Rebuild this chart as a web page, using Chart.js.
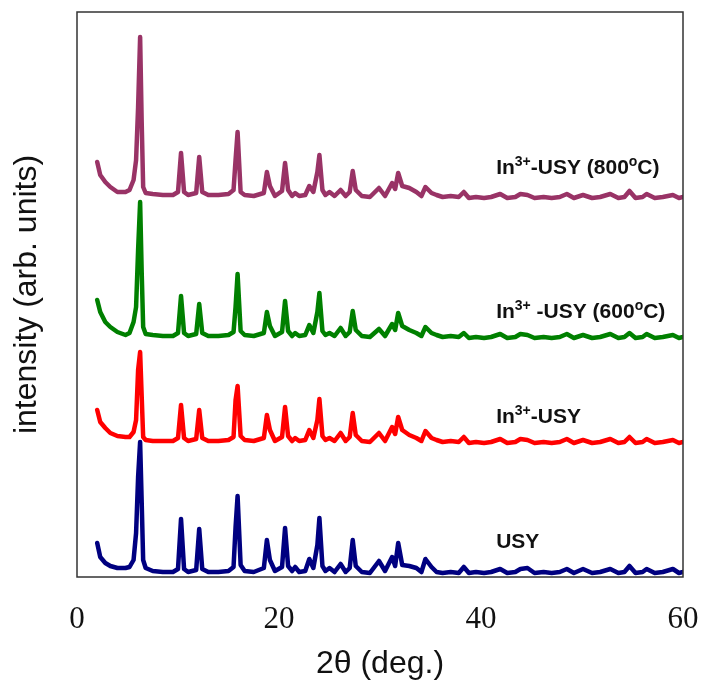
<!DOCTYPE html>
<html>
<head>
<meta charset="utf-8">
<script src="https://cdn.jsdelivr.net/npm/chart.js@4"></script>
<style>
  html, body { margin: 0; padding: 0; background: #fff; }
  #wrap { position: relative; width: 703px; height: 689px; }
</style>
</head>
<body>
<div id="wrap"><canvas id="xrd"></canvas></div>
<script>
// XRD patterns, stacked (values are arbitrary intensity units incl. the vertical offset)

const twoTheta = [
    2.0, 2.3, 2.8, 3.3, 4.0, 4.8, 5.2, 5.6, 5.85, 6.05,
    6.25, 6.4, 6.55, 6.8, 7.5, 8.5, 9.5, 10.0, 10.3, 10.6,
    11.0, 11.8, 12.1, 12.4, 13.0, 14.0, 15.0, 15.5, 15.7, 15.9,
    16.2, 16.6, 17.5, 18.5, 18.8, 19.1, 19.6, 20.3, 20.6, 20.9,
    21.3, 21.6, 22.0, 22.6, 23.0, 23.4, 23.8, 24.0, 24.3, 24.6,
    25.0, 25.5, 26.1, 26.6, 27.0, 27.3, 27.6, 28.2, 29.0, 29.9,
    30.5, 31.2, 31.5, 31.8, 32.2, 32.9, 33.6, 34.1, 34.5, 35.1,
    35.6, 36.2, 37.0, 37.8, 38.3, 38.8, 39.5, 40.3, 41.0, 41.9,
    42.6, 43.4, 43.9, 44.6, 45.3, 46.2, 47.0, 47.8, 48.5, 49.2,
    50.1, 51.0, 51.8, 52.8, 53.6, 54.2, 54.7, 55.3, 56.0, 56.4,
    57.2, 58.0, 59.0, 59.6, 60.0
];

const usy = [
    34, 20, 14, 11, 9, 9, 10, 17, 44, 100,
    135, 77, 17, 9, 6, 5, 5, 8, 58, 8,
    5, 7, 48, 8, 5, 5, 6, 10, 50, 81,
    12, 6, 5, 9, 37, 17, 6, 10, 49, 11,
    6, 10, 5, 6, 18, 9, 32, 59, 11, 6,
    9, 5, 13, 5, 9, 37, 11, 5, 4, 16,
    6, 20, 11, 34, 12, 11, 9, 5, 18, 10,
    5, 4, 5, 4, 10, 4, 5, 4, 5, 8,
    4, 5, 8, 9, 4, 5, 4, 5, 8, 4,
    8, 4, 5, 8, 4, 5, 11, 4, 5, 8,
    4, 5, 8, 4, 5
];

const inUsy = [
    167, 155, 149, 144, 141, 140, 140, 145, 157, 207,
    225, 182, 140, 137, 136, 136, 136, 139, 172, 139,
    136, 138, 167, 139, 136, 136, 137, 140, 177, 191,
    141, 137, 136, 139, 162, 147, 136, 140, 170, 141,
    136, 139, 136, 137, 147, 139, 157, 178, 141, 137,
    139, 136, 144, 136, 140, 164, 142, 136, 135, 144,
    136, 150, 143, 160, 147, 142, 139, 136, 146, 139,
    137, 135, 136, 135, 140, 134, 135, 134, 135, 138,
    134, 135, 138, 137, 134, 135, 134, 135, 138, 134,
    137, 134, 135, 138, 134, 135, 140, 134, 135, 138,
    134, 135, 137, 134, 135
];

const inUsy600 = [
    277, 265, 255, 250, 245, 242, 244, 255, 270, 327,
    375, 307, 250, 243, 242, 241, 241, 244, 281, 244,
    241, 243, 273, 244, 241, 241, 242, 245, 270, 303,
    246, 242, 241, 244, 265, 251, 241, 245, 276, 246,
    241, 244, 241, 242, 252, 244, 265, 284, 246, 242,
    244, 241, 249, 241, 245, 266, 247, 241, 240, 248,
    241, 253, 247, 264, 251, 247, 244, 241, 250, 244,
    242, 240, 241, 240, 244, 239, 240, 239, 240, 243,
    239, 240, 243, 242, 239, 240, 239, 240, 243, 239,
    242, 239, 240, 243, 239, 240, 244, 239, 240, 243,
    239, 240, 242, 239, 240
];

const inUsy800 = [
    415, 402, 395, 390, 385, 385, 387, 397, 417, 470,
    540, 457, 390, 384, 383, 382, 382, 385, 424, 385,
    382, 384, 420, 385, 382, 382, 383, 387, 417, 445,
    385, 382, 381, 384, 405, 391, 381, 386, 414, 387,
    381, 384, 381, 382, 391, 385, 405, 422, 387, 382,
    385, 381, 387, 381, 385, 406, 387, 381, 380, 389,
    381, 394, 388, 404, 391, 389, 385, 381, 390, 384,
    382, 380, 381, 380, 385, 379, 380, 379, 380, 383,
    379, 380, 383, 382, 379, 380, 379, 380, 383, 379,
    382, 379, 380, 383, 379, 380, 386, 379, 380, 383,
    379, 380, 382, 379, 380
];

const seriesNames = ['USY', 'In^{3+}-USY', 'In^{3+} -USY (600^{o}C)', 'In^{3+}-USY (800^{o}C)'];
const seriesColors = ['#000080', '#ff0000', '#008000', '#993366'];
const labelTheta = 41.5;
const labelLevels = [29, 154, 259, 403];
const xTicks = [0, 20, 40, 60];

const allSeries = [usy, inUsy, inUsy600, inUsy800];

// draw a label with ^{..} parts as superscript
function drawRichText(ctx, text, x, y) {
    const parts = text.split(/(\^\{[^}]*\})/).filter(p => p.length);
    let cx = x;
    parts.forEach(function (p) {
        if (p.startsWith('^{')) {
            const s = p.slice(2, -1);
            ctx.font = 'bold 14px "Liberation Sans", Arial, sans-serif';
            ctx.fillText(s, cx, y - 8);
            cx += ctx.measureText(s).width;
        } else {
            ctx.font = 'bold 21px "Liberation Sans", Arial, sans-serif';
            ctx.fillText(p, cx, y);
            cx += ctx.measureText(p).width;
        }
    });
}

const framePlugin = {
    id: 'frame',
    afterDatasetsDraw(chart) {
        const { ctx, chartArea, scales } = chart;
        ctx.save();
        ctx.strokeStyle = '#333';
        ctx.lineWidth = 1.5;
        ctx.strokeRect(chartArea.left, chartArea.top, chartArea.right - chartArea.left, chartArea.bottom - chartArea.top);

        ctx.fillStyle = '#111';
        ctx.textAlign = 'left';
        ctx.textBaseline = 'alphabetic';
        seriesNames.forEach(function (name, i) {
            const px = scales.x.getPixelForValue(labelTheta);
            const py = scales.y.getPixelForValue(labelLevels[i]);
            drawRichText(ctx, name, px, py);
        });
        ctx.restore();
    }
};

const datasets = allSeries.map(function (values, i) {
    return {
        label: seriesNames[i],
        data: twoTheta.map((t, j) => ({ x: t, y: values[j] })),
        borderColor: seriesColors[i],
        borderWidth: 4.5,
        borderJoinStyle: 'round',
        borderCapStyle: 'round',
        pointRadius: 0,
        tension: 0,
        fill: false
    };
});

new Chart(document.getElementById('xrd'), {
    type: 'line',
    data: { datasets: datasets },
    options: {
        responsive: true,
        maintainAspectRatio: false,
        animation: false,
        layout: { padding: { top: 12, right: 20, left: 0, bottom: 0 } },
        plugins: {
            legend: { display: false },
            tooltip: { enabled: false }
        },
        scales: {
            x: {
                type: 'linear',
                min: 0,
                max: 60,
                afterBuildTicks: function (scale) {
                    scale.ticks = xTicks.map(v => ({ value: v }));
                },
                afterFit: function (scale) {
                    scale.height = 112;
                    scale.paddingLeft = 0;
                    scale.paddingRight = 0;
                },
                grid: { display: false, drawTicks: false },
                border: { display: false },
                ticks: {
                    padding: 24,
                    maxRotation: 0,
                    color: '#111',
                    font: { family: '"Liberation Serif", "DejaVu Serif", serif', size: 31 }
                },
                title: {
                    display: true,
                    text: '2θ (deg.)',
                    color: '#111',
                    padding: { top: 0, bottom: 6 },
                    font: { family: '"Liberation Sans", Arial, sans-serif', size: 32 }
                }
            },
            y: {
                min: 0,
                max: 565,
                afterFit: function (scale) { scale.width = 77; },
                grid: { display: false, drawTicks: false },
                border: { display: false },
                ticks: { display: false },
                title: {
                    display: true,
                    text: 'intensity (arb. units)',
                    color: '#111',
                    padding: { top: 8, bottom: 0 },
                    font: { family: '"Liberation Sans", Arial, sans-serif', size: 32 }
                }
            }
        }
    },
    plugins: [framePlugin]
});
</script>
</body>
</html>
